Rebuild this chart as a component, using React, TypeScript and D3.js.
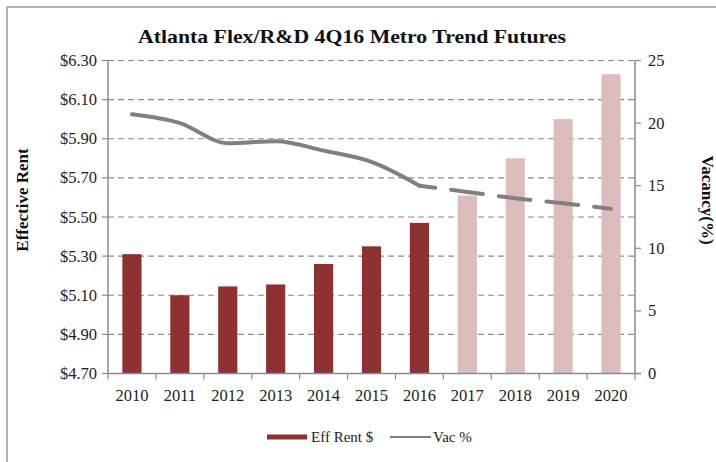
import React from "react";
import * as d3 from "d3";

const years = ["2010", "2011", "2012", "2013", "2014", "2015", "2016", "2017", "2018", "2019", "2020"];
const effRent = [5.31, 5.1, 5.145, 5.155, 5.26, 5.35, 5.47, 5.61, 5.8, 6.0, 6.23];
const vacancy = [20.7, 20.0, 18.4, 18.55, 17.8, 16.9, 15.0, 14.5, 14.0, 13.6, 13.15];
const forecastStart = 7; // index of first forecast year
const leftTicks = [4.7, 4.9, 5.1, 5.3, 5.5, 5.7, 5.9, 6.1, 6.3];
const rightTicks = [0, 5, 10, 15, 20, 25];

const W = 716;
const H = 462;
const FONT = "'Liberation Serif', 'Times New Roman', serif";

export default function App() {
  const left = 108;
  const right = 635;
  const top = 60.5;
  const bottom = 373.5;

  const x = d3.scaleBand<string>().domain(years).range([left, right]).paddingInner(0.6).paddingOuter(0.3);
  const xBand = d3.scaleBand<string>().domain(years).range([left, right]);
  const yL = d3.scaleLinear().domain([4.7, 6.3]).range([bottom, top]);
  const yR = d3.scaleLinear().domain([0, 25]).range([bottom, top]);

  const pts: [number, number][] = years.map((yr, i) => [xBand(yr)! + xBand.bandwidth() / 2, yR(vacancy[i])]);
  const line = d3.line().curve(d3.curveMonotoneX);
  const solidPath = line(pts.slice(0, forecastStart)) || "";
  const dashPath = line(pts.slice(forecastStart - 1)) || "";

  const fmt = (v: number) => "$" + v.toFixed(2);

  return (
    <div style={{ position: "absolute", left: 0, top: 0 }}>
      <svg width={W} height={H} style={{ display: "block", background: "#fff" }}>
        {/* frame */}
        <line x1={7} x2={W} y1={7} y2={7} stroke="#9a9a9a" strokeWidth={1.5} />
        <line x1={7} x2={7} y1={7} y2={H} stroke="#9a9a9a" strokeWidth={1.5} />

        <text x={352} y={43} textAnchor="middle" fontFamily={FONT} fontWeight="bold" fontSize={19} fill="#111"
          textLength={428} lengthAdjust="spacingAndGlyphs">
          Atlanta  Flex/R&amp;D  4Q16 Metro  Trend  Futures
        </text>

        {/* gridlines */}
        {leftTicks.slice(1).map((t) => (
          <line key={"g" + t} x1={left} x2={right} y1={yL(t)} y2={yL(t)} stroke="#8a8a8a" strokeWidth={1.2}
            strokeDasharray="6,4" />
        ))}

        {/* bars */}
        {years.map((yr, i) => (
          <rect key={yr} x={x(yr)} width={x.bandwidth()} y={yL(effRent[i])} height={bottom - yL(effRent[i])}
            fill={i < forecastStart ? "#8e3131" : "#ddbdbc"} />
        ))}

        {/* vacancy line */}
        <path d={solidPath} fill="none" stroke="#808080" strokeWidth={4} strokeLinecap="round" strokeLinejoin="round" />
        <path d={dashPath} fill="none" stroke="#808080" strokeWidth={4} strokeDasharray="32,16" strokeDashoffset={16} strokeLinecap="round" />

        {/* left axis */}
        <line x1={left} x2={left} y1={top} y2={bottom} stroke="#8a8a8a" strokeWidth={1.5} />
        {leftTicks.map((t) => (
          <g key={"l" + t}>
            <line x1={left - 6} x2={left} y1={yL(t)} y2={yL(t)} stroke="#8a8a8a" strokeWidth={1.2} />
            <text x={97} y={yL(t) + 5.5} textAnchor="end" fontFamily={FONT} fontSize={16.5} fill="#222">{fmt(t)}</text>
          </g>
        ))}

        {/* right axis */}
        <line x1={right} x2={right} y1={top} y2={bottom} stroke="#8a8a8a" strokeWidth={1.5} />
        {rightTicks.map((t) => (
          <g key={"r" + t}>
            <line x1={right} x2={right + 6} y1={yR(t)} y2={yR(t)} stroke="#8a8a8a" strokeWidth={1.2} />
            <text x={648} y={yR(t) + 5.5} textAnchor="start" fontFamily={FONT} fontSize={16.5} fill="#222">{t}</text>
          </g>
        ))}

        {/* x axis */}
        <line x1={left} x2={right + 6} y1={bottom} y2={bottom} stroke="#8a8a8a" strokeWidth={1.5} />
        {years.map((yr) => (
          <line key={"xt" + yr} x1={xBand(yr)!} x2={xBand(yr)!} y1={bottom} y2={bottom + 6} stroke="#8a8a8a" strokeWidth={1.2} />
        ))}
        <line x1={right} x2={right} y1={bottom} y2={bottom + 6} stroke="#8a8a8a" strokeWidth={1.2} />
        {years.map((yr) => (
          <text key={"xl" + yr} x={xBand(yr)! + xBand.bandwidth() / 2} y={401} textAnchor="middle" fontFamily={FONT}
            fontSize={16.5} fill="#222">{yr}</text>
        ))}

        {/* axis titles */}
        <text transform="translate(28,200) rotate(-90)" textAnchor="middle" fontFamily={FONT} fontWeight="bold" fontSize={17} fill="#111">
          Effective Rent
        </text>
        <text transform="translate(702,200) rotate(90)" textAnchor="middle" fontFamily={FONT} fontWeight="bold" fontSize={17} fill="#111">
          Vacancy(%)
        </text>

        {/* legend */}
        <line x1={267} x2={307} y1={437} y2={437} stroke="#8e3131" strokeWidth={5} />
        <text x={311} y={442} fontFamily={FONT} fontSize={15} fill="#222">Eff Rent $</text>
        <line x1={390} x2={431} y1={437} y2={437} stroke="#808080" strokeWidth={2} />
        <text x={433} y={442} fontFamily={FONT} fontSize={15} fill="#222">Vac %</text>
      </svg>
    </div>
  );
}
